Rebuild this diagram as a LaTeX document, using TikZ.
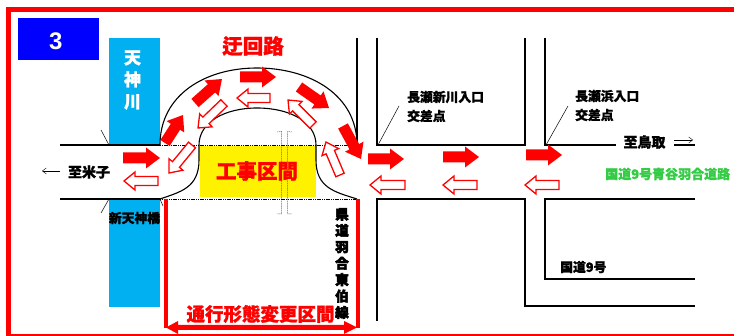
\documentclass[tikz,border=0pt]{standalone}
\usepackage{fontspec}
\setmainfont{Liberation Sans}
\newfontfamily\cjk[BoldFeatures={FakeBold=1.2}]{Noto Sans CJK JP}
\newfontfamily\cjkheavy[BoldFeatures={FakeBold=4}]{Noto Sans CJK JP}
\usetikzlibrary{arrows.meta}
\definecolor{framered}{HTML}{FF0000}
\definecolor{river}{HTML}{00B0F0}
\definecolor{signblue}{HTML}{0000FF}
\definecolor{greentext}{HTML}{33CC44}
\definecolor{bracketblue}{HTML}{4472C4}
\tikzset{
  road/.style={draw=black,line width=1.5pt},
  curb/.style={draw=black,line width=1.1pt},
  tickline/.style={draw=black,line width=0.5pt},
  dotline/.style={draw=black,line width=0.7pt,dash pattern=on 1.2pt off 0.6pt},
  bracket/.style={draw=bracketblue,line width=0.5pt,dash pattern=on 1.2pt off 0.6pt},
  solidarrow/.style={fill=framered,draw=none},
  openarrow/.style={fill=white,draw=framered,line width=1.3pt},
  jp/.style={inner sep=0pt},
  thinarrow/.style={draw=black,line width=0.4pt,-{Straight Barb[length=4pt,width=6pt]}},
}
\def\drawblock#1#2#3#4{% x1,y1,x2,y2
  \pgfmathsetmacro{\ang}{atan2(-(#4-#2),#3-#1)}%
  \pgfmathsetmacro{\len}{veclen(#3-#1,#4-#2)}%
  \pgfmathsetmacro{\neck}{\len-14}%
  \begin{scope}[shift={(#1,#2)},rotate=\ang]
    \path[solidarrow] (0,-5.5) -- (\neck,-5.5) -- (\neck,-10.5) -- (\len,0) -- (\neck,10.5) -- (\neck,5.5) -- (0,5.5) -- cycle;
  \end{scope}%
}
\def\drawopen#1#2#3#4{% x1,y1,x2,y2
  \pgfmathsetmacro{\ang}{atan2(-(#4-#2),#3-#1)}%
  \pgfmathsetmacro{\len}{veclen(#3-#1,#4-#2)}%
  \pgfmathsetmacro{\neck}{\len-11}%
  \begin{scope}[shift={(#1,#2)},rotate=\ang]
    \path[openarrow] (0,-4.5) -- (\neck,-4.5) -- (\neck,-9) -- (\len,0) -- (\neck,9) -- (\neck,4.5) -- (0,4.5) -- cycle;
  \end{scope}%
}
\begin{document}
\begin{tikzpicture}[x=1pt,y=-1pt]
\useasboundingbox (0,0) rectangle (734,336);
\fill[white] (0,0) rectangle (734,336);
% frame
\fill[framered] (6,7) rectangle (734,12);
\fill[framered] (6,7) rectangle (11,336);
\fill[framered] (6,334) rectangle (734,336);
% sign box
\node[fill=signblue,minimum width=81pt,minimum height=42pt,inner sep=0pt] (sign) at (58.5,39) {};
\node[text=white,inner sep=0pt,font=\bfseries\fontsize{24}{24}\selectfont] (signtext) at (55.7,41) {3};
% river
\fill[river] (109,38) rectangle (160,145);
\fill[river] (109,199) rectangle (160,307);
% work zone
\fill[yellow] (200,146) rectangle (316,197);
% brackets
\draw[bracket] (277,132) -- (281.5,131.5) -- (281.5,214) -- (277,214);
\draw[bracket] (292,132) -- (287.5,131.5) -- (287.5,214) -- (292,214);
% dotted carriageway edges
\draw[dotline] (160,145) -- (357,145);
\draw[dotline] (160,199) -- (357,199);
% roads left
\draw[road] (60,145) -- (160,145);
\draw[road] (60,199) -- (160,199);
\draw[road] (357,38) -- (357,145);
% bridge ticks
\draw[tickline] (101,130) -- (109,145);
\draw[tickline] (101,213) -- (109,199);
\draw[tickline] (160,199) -- (163,206);
% detour curbs
\draw[curb] (160,145) .. controls (160,95) and (205,68) .. (257,68) .. controls (310,68) and (357,95) .. (357,145);
\draw[curb] (160,199) .. controls (180,192) and (199,188) .. (199,160) -- (199,145) .. controls (199,122) and (225,108) .. (257,108) .. controls (290,108) and (316,122) .. (316,145) -- (316,160) .. controls (316,188) and (335,192) .. (357,199);
% roads right
\draw[road] (377,38) -- (377,145) -- (525,145) -- (525,38);
\draw[road] (545,38) -- (545,145) -- (616,145);
\draw[road] (674,145) -- (695,145);
\draw[road] (377,321) -- (377,199) -- (525,199) -- (525,306) -- (695,306);
\draw[road] (695,199) -- (545,199) -- (545,279) -- (695,279);
\draw[tickline] (378,145) -- (399,106);
\draw[tickline] (546,145) -- (568,106);
% red section markers
\fill[framered] (163.5,199) rectangle (168,328);
\fill[framered] (355.5,199) rectangle (360,328);
\path[solidarrow] (166,327.5) -- (178,321) -- (178,325) -- (344,325) -- (344,321) -- (357,327.5) -- (344,334) -- (344,330) -- (178,330) -- (178,334) -- cycle;
% solid arrows
\drawblock{123}{158}{160}{158}
\drawblock{165}{143}{183}{115}
\drawblock{195}{103}{222}{79}
\drawblock{240}{77}{276}{77}
\drawblock{299}{87}{329}{108}
\drawblock{343}{126}{361}{159}
\drawblock{368}{159}{404}{159}
\drawblock{443}{157}{479}{157}
\drawblock{526}{155}{562}{155}
% open arrows
\drawopen{158}{181}{124}{181}
\drawopen{192}{145}{169}{173}
\drawopen{224}{103}{198}{128}
\drawopen{270}{98}{237}{98}
\drawopen{313}{125}{288}{100}
\drawopen{340}{175}{326}{142}
\drawopen{405}{185}{370}{185}
\drawopen{477}{185}{443}{185}
\drawopen{559}{185}{525}{185}
% thin direction arrows
\coordinate (wa) at (60,171); \coordinate (wb) at (42,171);
\draw[thinarrow] (wa) -- (wb);
\coordinate (ea) at (674,140); \coordinate (eb) at (693,140);
\draw[thinarrow] (ea) -- (eb);
% texts
\node[jp,text=white,align=center,font=\cjk\bfseries\fontsize{17}{22}\selectfont] (tenjin) at (132.5,80) {天\\神\\川};
\node[jp,text=framered,font=\cjk\bfseries\fontsize{20.5}{20.5}\selectfont] (ukairo) at (253,46) {迂回路};
\node[jp,text=framered,font=\cjk\bfseries\fontsize{20.5}{20.5}\selectfont] (koji) at (257,171) {工事区間};
\node[jp,text=framered,font=\cjk\bfseries\fontsize{18.5}{18.5}\selectfont] (tsuko) at (260.5,314) {通行形態変更区間};
\node[jp,font=\cjk\bfseries\fontsize{14}{14}\selectfont] (yonago) at (89,172) {至米子};
\node[jp,font=\cjk\bfseries\fontsize{14}{14}\selectfont] (tottori) at (644.5,142) {至鳥取};
\node[jp,font=\cjk\bfseries\fontsize{12.8}{12.8}\selectfont] (bridge) at (134.5,218) {新天神橋};
\node[jp,align=center,font=\cjkheavy\bfseries\fontsize{13.5}{16.4}\selectfont] (pref) at (342,263.5) {県\\道\\羽\\合\\東\\伯\\線};
\node[jp,anchor=west,font=\cjk\bfseries\fontsize{12.8}{12.8}\selectfont] (x1a) at (407,97) {長瀬新川入口};
\node[jp,anchor=west,font=\cjk\bfseries\fontsize{12.8}{12.8}\selectfont] (x1b) at (407,116) {交差点};
\node[jp,anchor=west,font=\cjk\bfseries\fontsize{12.8}{12.8}\selectfont] (x2a) at (575,96) {長瀬浜入口};
\node[jp,anchor=west,font=\cjk\bfseries\fontsize{12.8}{12.8}\selectfont] (x2b) at (575,115) {交差点};
\node[jp,anchor=west,text=greentext,font=\cjk\bfseries\fontsize{13}{13}\selectfont] (green) at (605,174) {国道9号青谷羽合道路};
\node[jp,anchor=west,font=\cjk\bfseries\fontsize{12.8}{12.8}\selectfont] (r9) at (560,267) {国道9号};
\end{tikzpicture}
\end{document}
